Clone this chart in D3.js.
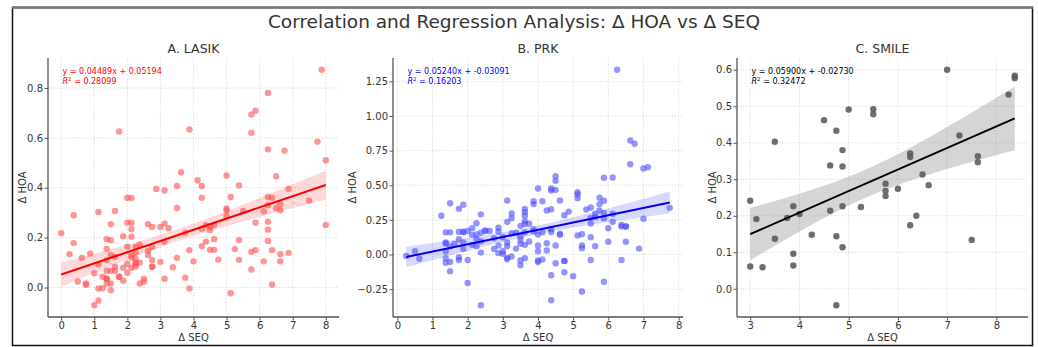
<!DOCTYPE html>
<html>
<head>
<meta charset="utf-8">
<script src="https://cdn.jsdelivr.net/npm/d3@7"></script>
<style>
  body { margin: 0; background: #fff; }
  svg { font-family: "DejaVu Sans", sans-serif; }
</style>
</head>
<body>
<div id="draw"></div>
<script>
// LASIK: delta SEQ / delta HOA
var lasikX = [0,0.25,0.375,0.375,0.5,0.625,0.75,0.75,0.875,1,1,1.125,1.125,1.125,1.125,1.25,1.25,
  1.375,1.375,1.375,1.375,1.375,1.375,1.375,1.5,1.5,1.5,1.5,1.5,1.5,1.625,1.625,1.625,1.625,1.75,1.75,1.75,
  1.875,1.875,1.875,2,2,2,2,2,2.125,2.125,2.125,2.125,2.125,2.125,2.125,2.25,2.25,2.25,2.25,2.25,2.25,
  2.375,2.375,2.375,2.5,2.5,2.625,2.625,2.625,2.75,2.75,2.75,2.75,2.75,2.875,3,3,3.125,3.125,3.125,3.125,
  3.25,3.375,3.5,3.5,3.5,3.625,3.75,3.75,3.875,3.875,3.875,4,4.125,4.25,4.25,4.25,4.25,4.375,4.375,
  4.5,4.5,4.5,4.625,4.625,4.625,4.75,5,5,5,5,5.125,5.125,5.25,5.375,5.375,5.375,5.5,5.75,5.75,5.75,5.75,
  5.875,5.875,5.875,6.125,6.125,6.25,6.25,6.25,6.25,6.25,6.25,6.25,6.375,6.375,6.375,6.5,6.5,
  6.625,6.625,6.625,6.625,6.75,6.875,6.875,7.5,7.75,7.875,8,8];
var lasikY = [0.218,0.134,0.29,0.178,0.024,0.119,0.016,0.011,0.136,0.057,-0.071,0.303,0.092,-0.004,-0.052,0.043,-0.003,
  0.194,0.155,0.11,0.067,0.035,0.035,0.016,0.254,0.19,0.13,0.067,0.016,-0.011,0.307,0.123,0.083,0.067,0.626,0.043,0.043,
  0.206,0.079,0.027,0.36,0.26,0.164,0.095,0.059,0.359,0.26,0.234,0.204,0.13,0.12,0.079,0.163,0.14,0.116,0.1,0.095,0.084,
  0.172,0.1,0.016,0.035,0.023,0.254,0.147,0.13,0.243,0.163,0.11,0.083,0.083,0.395,0.243,0.103,0.389,0.256,0.183,0.035,
  0.238,0.081,0.407,0.319,0.119,0.462,0.22,0.039,0.634,0.15,-0.004,0.105,0.43,0.407,0.36,0.236,0.166,0.184,0.25,
  0.243,0.23,0.151,0.251,0.194,0.151,0.112,0.449,0.317,0.31,0.286,0.363,-0.023,0.154,0.409,0.19,0.111,0.307,0.694,0.621,0.143,0.072,
  0.709,0.26,0.15,0.306,0.105,0.78,0.554,0.363,0.33,0.264,0.232,0.187,0.36,0.15,0.012,0.446,0.318,
  0.335,0.31,0.134,0.105,0.549,0.395,0.139,0.349,0.585,0.873,0.51,0.251];

// PRK
var prkX = [0.25,0.5,0.625,1.25,1.375,1.375,1.375,1.375,1.375,1.375,1.5,1.5,1.5,1.5,1.5,1.625,
  1.75,1.75,1.75,1.75,1.75,1.875,1.875,1.875,1.875,1.875,2,2,2,2.125,2.125,2.125,2.25,2.25,2.25,2.25,
  2.375,2.375,2.375,2.375,2.375,2.5,2.5,2.625,2.75,2.75,2.875,2.875,2.875,2.875,3,3,3,
  3.125,3.125,3.125,3.125,3.125,3.125,3.25,3.25,3.25,3.25,3.375,3.375,3.5,3.5,3.5,3.5,3.5,3.5,
  3.625,3.625,3.625,3.625,3.625,3.625,3.625,3.625,3.75,3.75,3.875,3.875,3.875,3.875,
  4,4,4,4,4,4,4.125,4.125,4.125,4.25,4.25,4.25,4.375,4.375,4.375,4.375,4.375,4.375,4.375,
  4.5,4.5,4.5,4.5,4.5,4.625,4.625,4.625,4.75,4.75,4.75,4.75,4.875,5,5.125,5.125,5.125,5.125,
  5.25,5.25,5.25,5.25,5.375,5.5,5.5,5.5,5.5,5.5,5.625,5.625,5.625,5.75,5.75,5.75,
  5.875,5.875,5.875,5.875,5.875,6,6,6.125,6.125,6.125,6.25,6.375,6.375,6.375,6.5,6.5,6.5,
  6.625,6.625,6.75,6.875,7,7,7.125,7.75];
var prkY = [-0.01,0.024,-0.03,0.28,0.16,0.087,0.08,0.024,-0.026,-0.06,0.37,0.16,0.058,-0.053,-0.12,0.077,
  0.33,0.164,0.11,-0.02,-0.039,0.36,0.165,0.16,0.087,0.04,0.17,-0.039,-0.205,0.19,0.142,0.07,0.226,0.145,0.113,0.06,
  0.29,0.157,0.096,0.014,-0.366,0.173,0.17,0.17,0.118,0.04,0.193,0.164,0.065,0.01,0.125,0.024,0.005,
  0.39,0.236,0.087,0.06,-0.024,-0.034,0.296,0.262,0.154,-0.014,0.157,0.043,0.207,0.13,0.106,0.077,-0.043,-0.077,
  0.33,0.306,0.28,0.24,0.22,0.16,0.07,-0.026,0.222,0.094,0.385,0.364,0.183,0.166,
  0.477,0.145,0.065,0.024,-0.043,-0.053,0.385,0.16,-0.036,0.318,0.082,0.029,0.477,0.462,0.327,0.183,0.162,-0.15,-0.33,
  0.566,0.532,0.467,0.065,-0.063,0.39,0.15,0.142,0.284,-0.046,-0.046,-0.128,0.31,-0.156,0.45,0.433,0.407,0.137,
  0.147,0.065,0.046,-0.267,0.325,0.34,0.265,0.224,0.125,-0.039,0.294,0.27,0.06,0.41,0.364,0.318,
  0.554,0.388,0.3,0.262,-0.197,0.19,0.092,0.556,0.294,0.236,1.334,0.214,0.202,-0.039,0.202,0.202,0.092,
  0.823,0.652,0.8,0.043,0.621,0.258,0.631,0.337];

// SMILE
var smileX = [3,3,3.125,3.25,3.5,3.5,3.75,3.875,3.875,3.875,4,4.25,4.5,4.625,4.625,4.75,4.75,4.75,
  4.875,4.875,4.875,4.875,5,5.25,5.5,5.5,5.75,5.75,5.75,6,6.25,6.25,6.25,6.375,6.5,6.625,
  7,7.25,7.5,7.625,7.625,8.25,8.375,8.375];
var smileY = [0.241,0.061,0.191,0.059,0.403,0.137,0.194,0.226,0.096,0.064,0.205,0.148,0.462,0.338,0.214,0.433,0.144,-0.045,
  0.38,0.335,0.226,0.114,0.491,0.224,0.492,0.478,0.288,0.268,0.254,0.274,0.371,0.361,0.174,0.2,0.313,0.284,
  0.6,0.42,0.134,0.363,0.347,0.532,0.584,0.577];

var titles = ["A. LASIK", "B. PRK", "C. SMILE"];
var slopes = [0.04489, 0.05240, 0.05900];
var intercepts = [0.05194, -0.03091, -0.02730];
var r2 = ["0.28099", "0.16203", "0.32472"];
var xTicks = [[0,1,2,3,4,5,6,7,8], [0,1,2,3,4,5,6,7,8], [3,4,5,6,7,8]];
var yTicks = [[0,0.2,0.4,0.6,0.8], [-0.25,0,0.25,0.5,0.75,1,1.25], [0,0.1,0.2,0.3,0.4,0.5,0.6]];
var yFormats = [".1f", ".2f", ".1f"];

var panels = [
  { xs: lasikX, ys: lasikY, left: 48, right: 339, ylab: 26, dot: "#ff4d4d", dotOp: 0.6, line: "#ff0000", band: "#ff0000", bandOp: 0.15, txt: "#ff0000" },
  { xs: prkX, ys: prkY, left: 393, right: 683, ylab: 41, dot: "#4d4dff", dotOp: 0.6, line: "#0000ee", band: "#0000ff", bandOp: 0.15, txt: "#0000ff" },
  { xs: smileX, ys: smileY, left: 737, right: 1028, ylab: 25, dot: "#555555", dotOp: 0.85, line: "#000000", band: "#888888", bandOp: 0.35, txt: "#000000" }
];
var plotTop = 58, plotBottom = 317;

var svg = d3.select('#draw').append('svg')
    .attr('width', 1038).attr('height', 347);

// outer frame
svg.append('rect').attr('x', 12.5).attr('y', 7.5).attr('width', 1020).attr('height', 338)
    .attr('fill', 'none').attr('stroke', '#111').attr('stroke-width', 1.5);
svg.append('line').attr('x1', 12).attr('x2', 1033).attr('y1', 7.5).attr('y2', 7.5)
    .attr('stroke', '#777').attr('stroke-width', 2.5);

svg.append('text').attr('x', 514).attr('y', 28).attr('text-anchor', 'middle')
    .attr('font-size', 18.5).attr('fill', '#333')
    .text('Correlation and Regression Analysis: Δ HOA vs Δ SEQ');

panels.forEach(function(p, i){
    var xs = p.xs, ys = p.ys, n = xs.length;
    var xmin = d3.min(xs), xmax = d3.max(xs), ymin = d3.min(ys), ymax = d3.max(ys);
    var mx = (xmax - xmin) * 0.05, my = (ymax - ymin) * 0.05;
    var x = d3.scaleLinear().domain([xmin - mx, xmax + mx]).range([p.left, p.right]);
    var y = d3.scaleLinear().domain([ymin - my, ymax + my]).range([plotBottom, plotTop]);
    var g = svg.append('g');

    // grid
    g.selectAll('.vg').data(xTicks[i]).enter().append('line')
        .attr('x1', function(d){ return x(d); }).attr('x2', function(d){ return x(d); })
        .attr('y1', plotTop).attr('y2', plotBottom)
        .attr('stroke', '#d8d8d8').attr('stroke-width', 0.8).attr('stroke-dasharray', '1.5,1.5');
    g.selectAll('.hg').data(yTicks[i]).enter().append('line')
        .attr('x1', p.left).attr('x2', p.right)
        .attr('y1', function(d){ return y(d); }).attr('y2', function(d){ return y(d); })
        .attr('stroke', '#d8d8d8').attr('stroke-width', 0.8).attr('stroke-dasharray', '1.5,1.5');

    // confidence band around the fitted line
    var b = slopes[i], a = intercepts[i];
    var xbar = d3.mean(xs);
    var sxx = d3.sum(xs, function(v){ return (v - xbar) * (v - xbar); });
    var sse = d3.sum(xs, function(v, k){ var r = ys[k] - (a + b * v); return r * r; });
    var s = Math.sqrt(sse / (n - 2));
    var grid = d3.range(0, 101).map(function(k){ return xmin + (xmax - xmin) * k / 100; });
    var bandData = grid.map(function(v){
        var se = s * Math.sqrt(1 / n + (v - xbar) * (v - xbar) / sxx);
        return { x: v, lo: a + b * v - 1.97 * se, hi: a + b * v + 1.97 * se };
    });
    g.append('path').datum(bandData)
        .attr('d', d3.area().x(function(d){ return x(d.x); })
            .y0(function(d){ return y(d.lo); }).y1(function(d){ return y(d.hi); }))
        .attr('fill', p.band).attr('fill-opacity', p.bandOp);

    // points
    g.selectAll('circle').data(xs).enter().append('circle')
        .attr('cx', function(d){ return x(d); })
        .attr('cy', function(d, k){ return y(ys[k]); })
        .attr('r', 3.2)
        .attr('fill', p.dot).attr('fill-opacity', p.dotOp);

    // regression line
    g.append('path').datum([xmin, xmax])
        .attr('d', d3.line().x(function(d){ return x(d); }).y(function(d){ return y(a + b * d); }))
        .attr('stroke', p.line).attr('stroke-width', 2).attr('fill', 'none');

    // axes
    var xAxis = d3.axisBottom(x).tickValues(xTicks[i]).tickSize(3.5).tickPadding(1).tickFormat(d3.format('d'));
    var yAxis = d3.axisLeft(y).tickValues(yTicks[i]).tickSize(3.5).tickPadding(1.5)
        .tickFormat(function(d){ return d3.format(yFormats[i])(d).replace('-', '\u2212'); });
    var gx = g.append('g').attr('transform', 'translate(0,' + plotBottom + ')').call(xAxis);
    var gy = g.append('g').attr('transform', 'translate(' + p.left + ',0)').call(yAxis);
    [gx, gy].forEach(function(ax){
        ax.select('.domain').attr('stroke', '#555').attr('stroke-width', 1.3);
        ax.selectAll('.tick line').attr('stroke', '#555');
        ax.selectAll('.tick text').attr('fill', '#333').attr('font-size', 10)
            .attr('font-family', '"DejaVu Sans", sans-serif');
    });
    gx.select('.domain').attr('d', 'M' + p.left + ',0H' + p.right);
    gy.select('.domain').attr('d', 'M0,' + plotTop + 'V' + plotBottom);

    // labels
    g.append('text').attr('x', (p.left + p.right) / 2).attr('y', 52.5).attr('text-anchor', 'middle')
        .attr('font-size', 12.5).attr('fill', '#333').text(titles[i]);
    g.append('text').attr('x', (p.left + p.right) / 2).attr('y', 340.5).attr('text-anchor', 'middle')
        .attr('font-size', 10).attr('fill', '#333').text('Δ SEQ');
    g.append('text').attr('transform', 'translate(' + (p.left - p.ylab) + ',' + ((plotTop + plotBottom) / 2) + ') rotate(-90)')
        .attr('text-anchor', 'middle').attr('dy', '0.35em').attr('font-size', 10).attr('fill', '#333').text('Δ HOA');

    // equation text
    var tx = p.left + 0.05 * (p.right - p.left);
    g.append('text').attr('x', tx).attr('y', 74).attr('font-size', 8).attr('fill', p.txt)
        .text('y = ' + d3.format('.5f')(b) + 'x + ' + d3.format('.5f')(a).replace('\u2212', '-'));
    var t2 = g.append('text').attr('x', tx).attr('y', 83.5).attr('font-size', 8).attr('fill', p.txt);
    t2.append('tspan').attr('font-style', 'italic').text('R');
    t2.append('tspan').attr('font-size', 5.5).attr('dy', -3).text('2');
    t2.append('tspan').attr('dy', 3).text(' = ' + r2[i]);
});
</script>
</body>
</html>
